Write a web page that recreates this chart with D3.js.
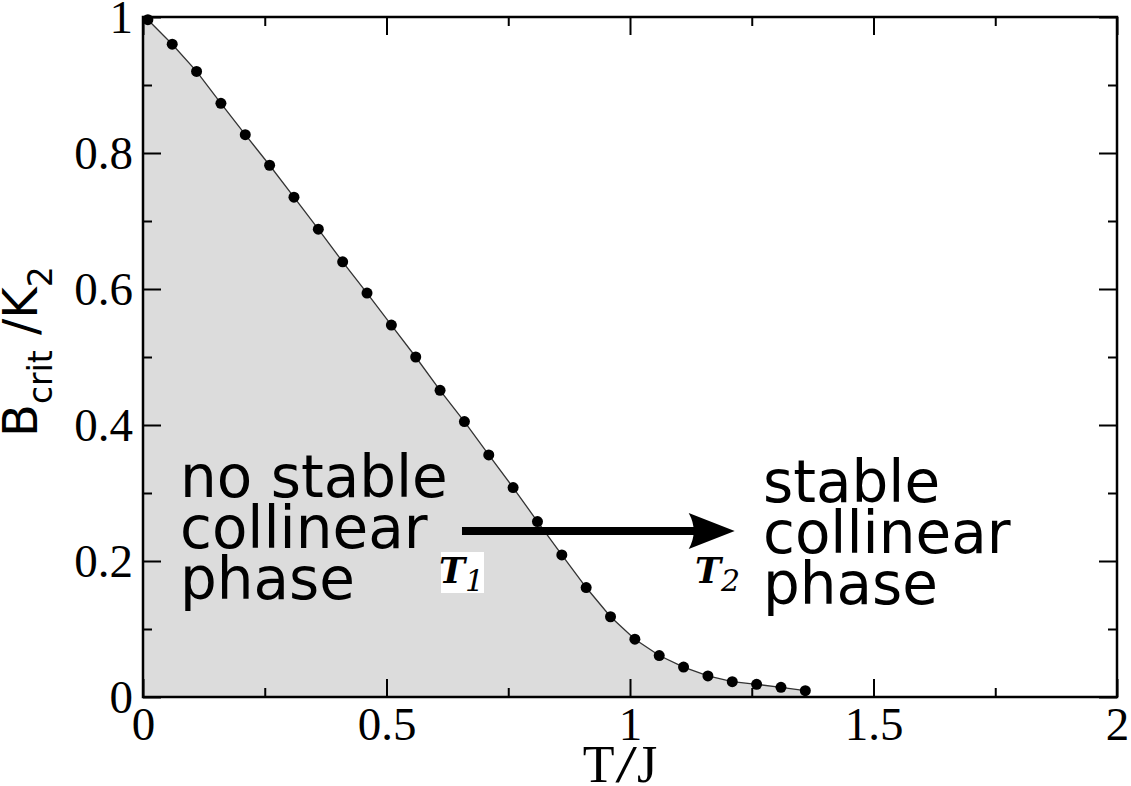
<!DOCTYPE html>
<html>
<head>
<meta charset="utf-8">
<script src="https://cdn.jsdelivr.net/npm/d3@7"></script>
<style>
  body { margin: 0; background: #fff; }
  svg { display: block; }
</style>
</head>
<body>
<div id="chart"></div>
<script>
// critical field vs temperature
var tValues = [0.01, 0.06, 0.11, 0.16, 0.21, 0.26, 0.31, 0.36, 0.41, 0.46,
               0.51, 0.56, 0.61, 0.66, 0.71, 0.76, 0.81, 0.86, 0.91, 0.96,
               1.01, 1.06, 1.11, 1.16, 1.21, 1.26, 1.31, 1.36];
var bCrit = [0.996, 0.960, 0.920, 0.873, 0.827, 0.782, 0.735, 0.688, 0.640, 0.594,
             0.547, 0.500, 0.451, 0.405, 0.356, 0.308, 0.258, 0.209, 0.161, 0.118,
             0.085, 0.061, 0.044, 0.031, 0.0225, 0.0186, 0.0142, 0.0093];

var xMajor = [0, 0.5, 1, 1.5, 2];
var xMinor = [0.25, 0.75, 1.25, 1.75];
var xTickLabels = ["0", "0.5", "1", "1.5", "2"];
var yMajor = [0, 0.2, 0.4, 0.6, 0.8, 1];
var yMinor = [0.1, 0.3, 0.5, 0.7, 0.9];
var yTickLabels = ["0", "0.2", "0.4", "0.6", "0.8", "1"];

function init() {
    var w = 1131, h = 786;
    var left = 143, right = 1117, top = 17, bottom = 697;

    var dataset = tValues.map(function (t, i) { return { t: t, b: bCrit[i] }; });

    var xScale = d3.scaleLinear().domain([0, 2]).range([left, right]);
    var yScale = d3.scaleLinear().domain([0, 1]).range([bottom, top]);

    var svg = d3.select("#chart")
        .append("svg")
        .attr("width", w)
        .attr("height", h);

    // shaded region under the curve (starts at the left axis)
    var fillData = [{ t: 0, b: dataset[0].b }].concat(dataset);
    var area = d3.area()
        .x(function (d) { return xScale(d.t); })
        .y0(yScale(0))
        .y1(function (d) { return yScale(d.b); });
    svg.append("path")
        .datum(fillData)
        .attr("d", area)
        .attr("fill", "#dcdcdc");

    // axes (ticks pointing inward on all four sides)
    function styleAxis(g) {
        g.select(".domain").remove();
        g.selectAll("line").attr("stroke", "#000").attr("stroke-width", 2);
    }
    var serif = "'Liberation Serif', 'Times New Roman', serif";

    var xAxis = d3.axisBottom(xScale).tickValues(xMajor).tickSize(-18).tickPadding(10)
        .tickFormat(function (d, i) { return xTickLabels[i]; });
    svg.append("g").attr("transform", "translate(0," + bottom + ")").call(xAxis).call(styleAxis)
        .selectAll("text")
        .style("font-family", serif)
        .style("font-size", "47px")
        .attr("fill", "#000");
    svg.append("g").attr("transform", "translate(0," + bottom + ")")
        .call(d3.axisBottom(xScale).tickValues(xMinor).tickSize(-9).tickFormat(""))
        .call(styleAxis);

    svg.append("g").attr("transform", "translate(0," + top + ")")
        .call(d3.axisTop(xScale).tickValues(xMajor).tickSize(-18).tickFormat(""))
        .call(styleAxis);
    svg.append("g").attr("transform", "translate(0," + top + ")")
        .call(d3.axisTop(xScale).tickValues(xMinor).tickSize(-9).tickFormat(""))
        .call(styleAxis);

    var yAxis = d3.axisLeft(yScale).tickValues(yMajor).tickSize(-18).tickPadding(10)
        .tickFormat(function (d, i) { return yTickLabels[i]; });
    svg.append("g").attr("transform", "translate(" + left + ",0)").call(yAxis).call(styleAxis)
        .selectAll("text")
        .style("font-family", serif)
        .style("font-size", "47px")
        .attr("fill", "#000");
    svg.append("g").attr("transform", "translate(" + left + ",0)")
        .call(d3.axisLeft(yScale).tickValues(yMinor).tickSize(-9).tickFormat(""))
        .call(styleAxis);

    svg.append("g").attr("transform", "translate(" + right + ",0)")
        .call(d3.axisRight(yScale).tickValues(yMajor).tickSize(-18).tickFormat(""))
        .call(styleAxis);
    svg.append("g").attr("transform", "translate(" + right + ",0)")
        .call(d3.axisRight(yScale).tickValues(yMinor).tickSize(-9).tickFormat(""))
        .call(styleAxis);

    // frame
    svg.append("rect")
        .attr("x", left).attr("y", top)
        .attr("width", right - left).attr("height", bottom - top)
        .attr("fill", "none")
        .attr("stroke", "#000")
        .attr("stroke-width", 2.5);

    // curve + points
    var line = d3.line()
        .x(function (d) { return xScale(d.t); })
        .y(function (d) { return yScale(d.b); });
    svg.append("path")
        .datum(dataset)
        .attr("d", line)
        .attr("fill", "none")
        .attr("stroke", "#333")
        .attr("stroke-width", 1.3);

    svg.selectAll("circle.pt")
        .data(dataset)
        .enter()
        .append("circle")
        .attr("class", "pt")
        .attr("cx", function (d) { return xScale(d.t); })
        .attr("cy", function (d) { return yScale(d.b); })
        .attr("r", 5.5)
        .attr("fill", "#000");

    // axis titles
    var xt = svg.append("text")
        .attr("x", 622).attr("y", 782)
        .attr("text-anchor", "middle")
        .style("font-family", serif)
        .style("font-size", "52px")
        .style("letter-spacing", "4px");
    xt.append("tspan").text("T");
    xt.append("tspan").style("font-weight", "bold").style("font-style", "italic").text("/");
    xt.append("tspan").text("J");

    var yt = svg.append("text")
        .attr("transform", "translate(37,437) rotate(-90)")
        .attr("text-anchor", "start")
        .style("font-family", "'DejaVu Sans', sans-serif")
        .style("font-size", "48px");
    yt.append("tspan").text("B");
    yt.append("tspan").attr("dy", 15).style("font-size", "33px").text("crit");
    yt.append("tspan").attr("dy", -15).text(" /K");
    yt.append("tspan").attr("dy", 15).style("font-size", "33px").text("2");

    // annotations
    var annFont = "'DejaVu Sans', sans-serif";
    var leftLines = ["no stable", "collinear", "phase"];
    var rightLines = ["stable", "collinear", "phase"];
    svg.append("g").selectAll("text")
        .data(leftLines)
        .enter()
        .append("text")
        .attr("x", 180)
        .attr("y", function (d, i) { return 497 + i * 51; })
        .style("font-family", annFont)
        .style("font-size", "58px")
        .text(function (d) { return d; });
    svg.append("g").selectAll("text")
        .data(rightLines)
        .enter()
        .append("text")
        .attr("x", 763)
        .attr("y", function (d, i) { return 502 + i * 51; })
        .style("font-family", annFont)
        .style("font-size", "58px")
        .text(function (d) { return d; });

    // arrow T1 -> T2
    var ay = yScale(0.244);
    var ax0 = xScale(0.655), ax1 = xScale(1.215);
    svg.append("line")
        .attr("x1", ax0).attr("y1", ay)
        .attr("x2", ax1 - 38).attr("y2", ay)
        .attr("stroke", "#000")
        .attr("stroke-width", 8);
    svg.append("path")
        .attr("d", "M" + ax1 + "," + ay +
                   " L" + (ax1 - 46) + "," + (ay - 18) +
                   " Q" + (ax1 - 36) + "," + ay + " " + (ax1 - 46) + "," + (ay + 18) + " Z")
        .attr("fill", "#000");

    // T1 / T2 labels
    var tFont = "'DejaVu Serif', 'Liberation Serif', serif";
    svg.append("rect")
        .attr("x", 441).attr("y", 552)
        .attr("width", 43).attr("height", 41)
        .attr("fill", "#fff");
    function tLabel(x, sub) {
        var t = svg.append("text")
            .attr("x", x).attr("y", 583)
            .style("font-family", tFont)
            .style("font-weight", "bold")
            .style("font-style", "italic")
            .style("font-size", "35px");
        t.append("tspan").text("T");
        t.append("tspan").attr("dy", 8).style("font-size", "30px")
            .style("font-weight", "normal").text(sub);
    }
    tLabel(439, "1");
    tLabel(695, "2");
}

window.onload = init;
</script>
</body>
</html>
